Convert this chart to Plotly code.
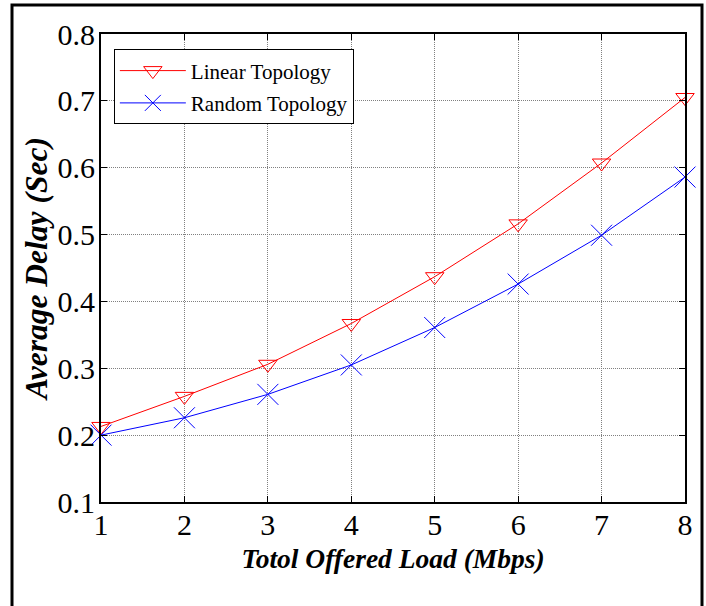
import plotly.graph_objects as go

load_mbps = [1, 2, 3, 4, 5, 6, 7, 8]
linear_delay = [0.213, 0.258, 0.306, 0.367, 0.437, 0.516, 0.607, 0.705]
random_delay = [0.200, 0.226, 0.261, 0.305, 0.361, 0.426, 0.499, 0.586]
x_ticks = [1, 2, 3, 4, 5, 6, 7, 8]
y_ticks = [0.1, 0.2, 0.3, 0.4, 0.5, 0.6, 0.7, 0.8]
y_tick_text = ["0.1", "0.2", "0.3", "0.4", "0.5", "0.6", "0.7", "0.8"]

FONT = "Liberation Serif"

fig = go.Figure()
fig.add_trace(go.Scatter(
    x=load_mbps, y=linear_delay, mode="lines+markers", name="Linear Topology",
    legendgroup="a",
    line=dict(color="#ff0000", width=1),
    marker=dict(symbol="triangle-down-open", size=16, color="#ff0000", line=dict(width=1, color="#ff0000")),
    cliponaxis=False,
))
fig.add_trace(go.Scatter(
    x=load_mbps, y=random_delay, mode="lines+markers", name="Random Topology",
    legendgroup="b",
    line=dict(color="#0000ff", width=1),
    marker=dict(symbol="x-thin-open", size=21, color="#0000ff", line=dict(width=1, color="#0000ff")),
    cliponaxis=False,
))

axis_common = dict(
    showline=True, linecolor="black", linewidth=2, mirror="ticks",
    ticks="inside", ticklen=6, tickcolor="black", tickwidth=1,
    showgrid=True, gridcolor="#808080", gridwidth=1, griddash="1px,1px",
    zeroline=False,
    tickfont=dict(family=FONT, size=30, color="black"),
)

fig.update_layout(
    width=706, height=606,
    margin=dict(l=101, r=21, t=34, b=104),
    paper_bgcolor="white", plot_bgcolor="white",
    showlegend=True,
    legend=dict(
        x=0.022, y=0.967, xanchor="left", yanchor="top",
        bgcolor="white", bordercolor="black", borderwidth=1,
        font=dict(family=FONT, size=21, color="black"),
        tracegroupgap=2, itemwidth=66,
    ),
    xaxis=dict(
        range=[1, 8], tickvals=x_ticks, ticklabelstandoff=-5,
        title=dict(text="Totol Offered Load (Mbps)", standoff=9,
                   font=dict(family=FONT, size=27.5, color="black", weight="bold", style="italic")),
        **axis_common,
    ),
    yaxis=dict(
        range=[0.1, 0.8], tickvals=y_ticks, ticktext=y_tick_text, ticklabelstandoff=-2,
        title=dict(text="Average Delay (Sec)", standoff=0,
                   font=dict(family=FONT, size=31.5, color="black", weight="bold", style="italic")),
        **axis_common,
    ),
    shapes=[dict(
        type="rect", xref="paper", yref="paper",
        x0=(12 - 101) / 584, x1=(702 - 101) / 584,
        y0=(502 - 640) / 468, y1=(502 - 5) / 468,
        line=dict(color="black", width=3), fillcolor="rgba(0,0,0,0)", layer="below",
    )],
)

fig.write_html("out.html", config={"displayModeBar": False},
               post_script="document.body.style.margin='0';")
